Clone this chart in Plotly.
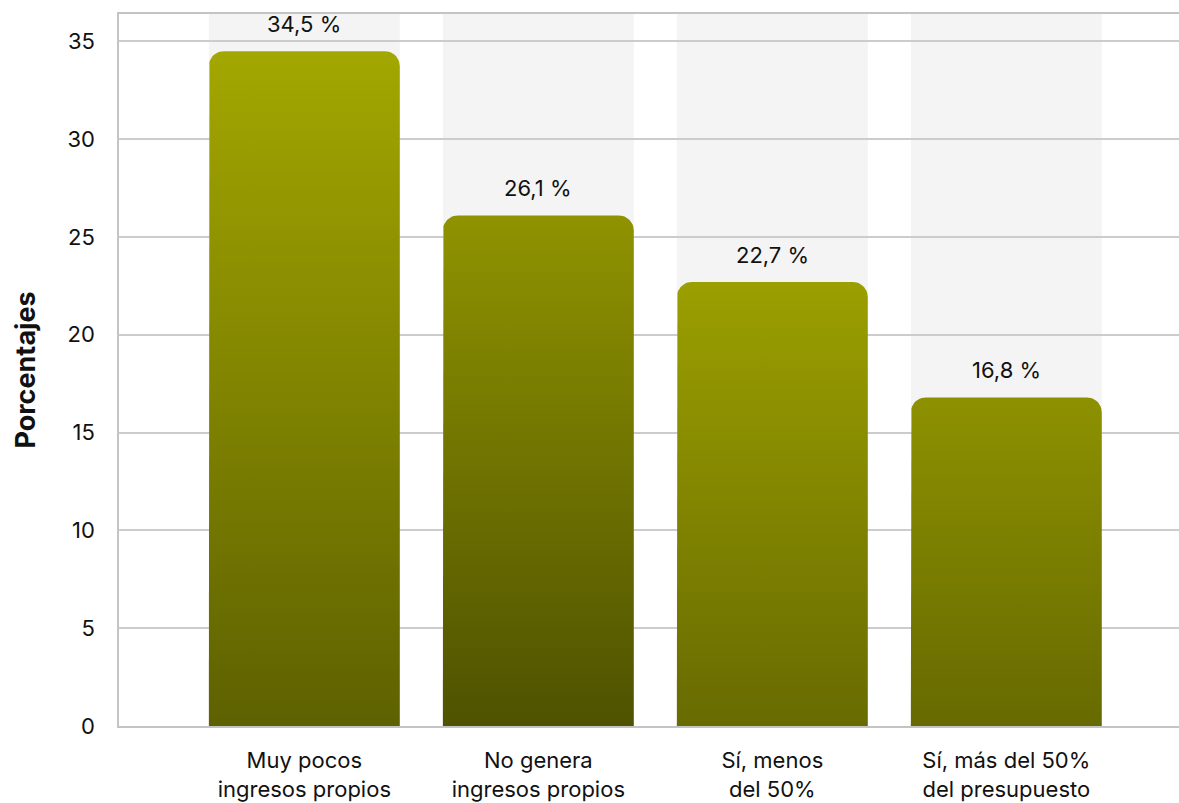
import numpy as np
import plotly.graph_objects as go

# Data
categories = [
    "Muy pocos<br>ingresos propios",
    "No genera<br>ingresos propios",
    "Sí, menos<br>del 50%",
    "Sí, más del 50%<br>del presupuesto",
]
values = [34.5, 26.1, 22.7, 16.8]
y_ticks = [0, 5, 10, 15, 20, 25, 30, 35]

# Styling
bar_bottom_colors = ["#5e6100", "#4f5200", "#686b00", "#676a00"]
bar_top_colors = ["#a3a700", "#8f9300", "#9b9f00", "#8d9100"]
band_color = "#f4f4f4"
grid_color = "#cccccc"
font_family = "Inter, Liberation Sans, Arial, sans-serif"

x_range = [-0.792, 3.738]
y_range = [0, 36.4]
bar_width = 0.816

# Plot area size (px) to convert the corner radius into data units
plot_w = 1179 - 119
plot_h = 803 - 14 - 77
corner_px = 15
rx = corner_px * (x_range[1] - x_range[0]) / plot_w
ry = corner_px * (y_range[1] - y_range[0]) / plot_h


def rounded_bar_path(xc, top, w):
    x0, x1 = xc - w / 2, xc + w / 2
    t_left = np.linspace(np.pi, np.pi / 2, 12)
    t_right = np.linspace(np.pi / 2, 0, 12)
    xs = [x0, x0]
    ys = [0, top - ry]
    xs += list(x0 + rx + rx * np.cos(t_left))
    ys += list(top - ry + ry * np.sin(t_left))
    xs += list(x1 - rx + rx * np.cos(t_right))
    ys += list(top - ry + ry * np.sin(t_right))
    xs += [x1, x1, x0]
    ys += [top - ry, 0, 0]
    return xs, ys


fig = go.Figure()

for i, v in enumerate(values):
    xs, ys = rounded_bar_path(i, v, bar_width)
    fig.add_trace(
        go.Scatter(
            x=xs,
            y=ys,
            mode="lines",
            line=dict(width=0),
            fill="toself",
            fillgradient=dict(
                type="vertical",
                colorscale=[[0, bar_bottom_colors[i]], [1, bar_top_colors[i]]],
            ),
            hoverinfo="skip",
            showlegend=False,
        )
    )
    # Light background column behind each bar
    fig.add_shape(
        type="rect",
        xref="x",
        yref="paper",
        x0=i - bar_width / 2,
        x1=i + bar_width / 2,
        y0=0,
        y1=1,
        fillcolor=band_color,
        line=dict(width=0),
        layer="below",
    )
    fig.add_annotation(
        x=i,
        y=v,
        text=f"{v:.1f}".replace(".", ",") + " %",
        showarrow=False,
        yshift=27,
        font=dict(size=22, color="#111111", family=font_family),
    )

fig.update_layout(
    width=1179,
    height=803,
    margin=dict(l=119, r=0, t=14, b=77),
    paper_bgcolor="white",
    plot_bgcolor="white",
    font=dict(family=font_family, color="#111111"),
    showlegend=False,
)

fig.update_xaxes(
    range=x_range,
    tickvals=list(range(len(categories))),
    ticktext=categories,
    tickfont=dict(size=22),
    showgrid=False,
    zeroline=False,
    showline=True,
    mirror=True,
    linecolor="#c4c4c4",
    linewidth=1.5,
    ticks="",
    ticklabelstandoff=14,
)

fig.update_yaxes(
    range=y_range,
    tickvals=y_ticks,
    tickfont=dict(size=22),
    showgrid=True,
    gridcolor=grid_color,
    gridwidth=1.5,
    zeroline=False,
    showline=True,
    linecolor="#c4c4c4",
    linewidth=1.5,
    ticks="",
    ticklabelstandoff=18,
    title=dict(
        text="<b>Porcentajes</b>",
        font=dict(size=27, family=font_family),
        standoff=24,
    ),
)

fig.write_html("out.html")
